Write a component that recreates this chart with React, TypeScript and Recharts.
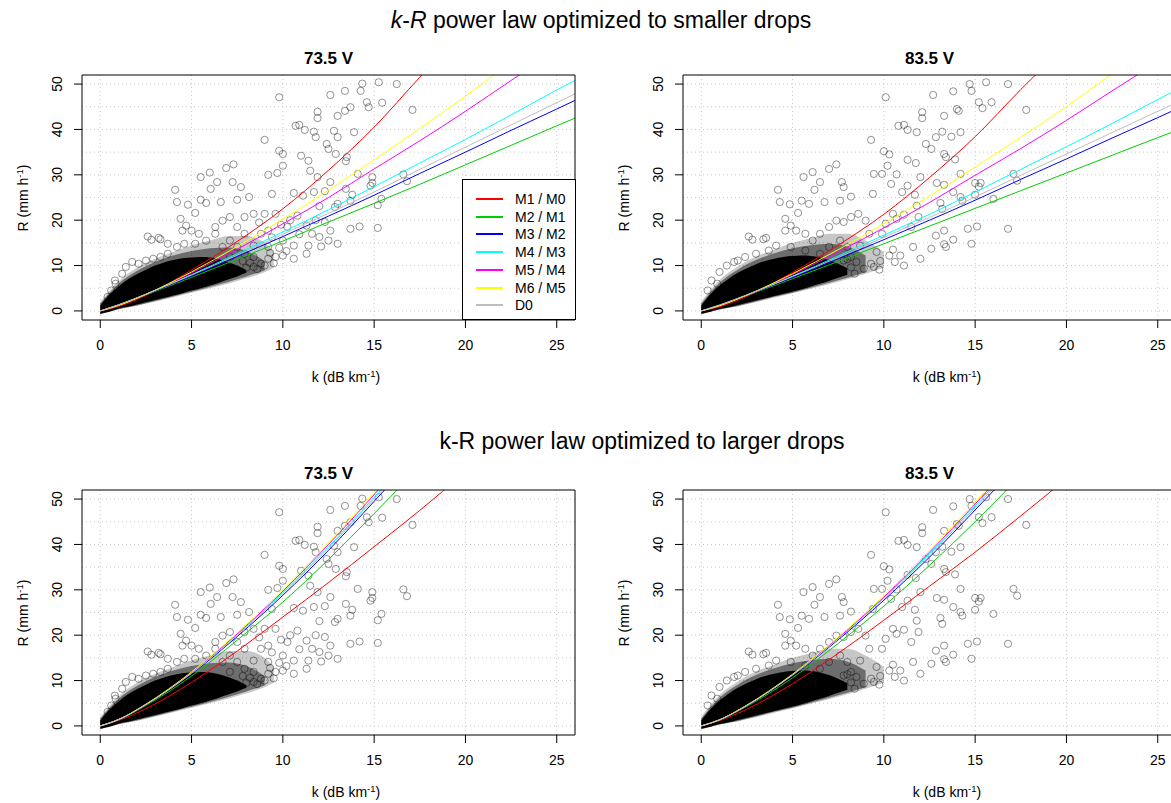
import React from 'react';
import {
  ComposedChart,
  Line,
  Area,
  Scatter,
  XAxis,
  YAxis,
  ReferenceLine,
  ReferenceArea,
} from 'recharts';

const FONT = '"Liberation Sans", Arial, Helvetica, sans-serif';

// axis ticks and grid positions
const kTicks = [0, 5, 10, 15, 20, 25];
const rTicks = [0, 10, 20, 30, 40, 50];
const kGrid = [0, 5, 10, 15, 20, 25];
const rGrid = [0, 5, 10, 15, 20, 25, 30, 35, 40, 45, 50];

// series (legend order)
const seriesNames = ['M1 / M0', 'M2 / M1', 'M3 / M2', 'M4 / M3', 'M5 / M4', 'M6 / M5', 'D0'];
const seriesKeys = ['m1m0', 'm2m1', 'm3m2', 'm4m3', 'm5m4', 'm6m5', 'd0'];
const seriesColors = ['#FF0000', '#00CD00', '#0000FF', '#00FFFF', '#FF00FF', '#FFFF00', '#BEBEBE'];

// k values where the fitted curves were read
const lineK = [0, 1, 2.5, 5, 7.5, 10, 12.5, 15, 17.5, 20, 22.5, 25, 27];

// optimized to smaller drops, 73.5 V
const small73: (number | null)[][] = [
  [0, 1.0, 3.4, 9.0, 15.3, 22.5, 31.0, 40.5, 51.5, 62, null, null, null],
  [0, 1.34, 3.55, 7.4, 11.4, 15.4, 19.6, 23.7, 27.9, 32.2, 36.5, 40.8, 44.2],
  [0, 1.33, 3.62, 7.7, 12.0, 16.4, 20.9, 25.5, 30.3, 35.0, 39.8, 44.5, 48.3],
  [0, 1.31, 3.67, 8.0, 12.6, 17.4, 22.3, 27.4, 32.6, 37.8, 43.2, 48.7, 52.9],
  [0, 1.23, 3.67, 8.4, 13.6, 19.2, 25.0, 31.3, 37.5, 44.0, 50.8, 57.5, null],
  [0, 1.18, 3.65, 8.6, 14.2, 20.2, 26.6, 33.3, 40.2, 47.3, 54.9, null, null],
  [0, 1.36, 3.7, 7.9, 12.3, 16.9, 21.5, 26.2, 31.2, 36.1, 41.0, 45.9, 49.8],
];

// optimized to smaller drops, 83.5 V
const small83: (number | null)[][] = [
  [0, 0.91, 3.2, 8.5, 14.5, 21.3, 29.4, 38.4, 48.8, 58.7, null, null, null],
  [0, 1.29, 3.41, 7.1, 10.9, 14.8, 18.7, 22.6, 26.5, 30.4, 34.3, 38.2, 41.2],
  [0, 1.27, 3.47, 7.38, 11.5, 15.7, 20.0, 24.4, 29.0, 33.5, 38.1, 42.6, 46.3],
  [0, 1.25, 3.51, 7.66, 12.1, 16.7, 21.3, 26.2, 31.2, 36.2, 41.3, 46.6, 50.6],
  [0, 1.17, 3.5, 8.0, 13.0, 18.3, 23.9, 29.9, 35.8, 42.0, 48.5, 54.9, null],
  [0, 1.12, 3.48, 8.2, 13.5, 19.2, 25.3, 31.7, 38.3, 45.0, 52.3, 59, null],
  [0, 1.3, 3.54, 7.57, 11.8, 16.2, 20.6, 25.1, 29.9, 34.6, 39.3, 44.0, 47.7],
];

// optimized to larger drops, 73.5 V
const large73: (number | null)[][] = [
  [0, 1.2, 3.8, 9.6, 16.5, 24.0, 31.6, 39.5, 47.5, 56, null, null, null],
  [0, 1.35, 4.5, 11.0, 18.9, 27.3, 36.7, 46.8, 57.2, null, null, null, null],
  [0, 1.38, 4.65, 11.5, 19.7, 28.8, 38.7, 49.5, 60.5, null, null, null, null],
  [0, 1.4, 4.7, 11.7, 20.1, 29.4, 39.5, 50.4, 61.8, null, null, null, null],
  [0, 1.4, 4.75, 11.8, 20.3, 29.7, 40.0, 51.0, 62.5, null, null, null, null],
  [0, 1.4, 4.8, 11.9, 20.5, 30.0, 40.4, 51.5, 63, null, null, null, null],
  [0, 1.4, 4.7, 11.6, 20.0, 29.2, 39.2, 50.0, 61.3, null, null, null, null],
];

// optimized to larger drops, 83.5 V
const large83: (number | null)[][] = [
  [0, 1.17, 3.7, 9.3, 16.0, 23.3, 30.8, 38.3, 46.3, 54.5, null, null, null],
  [0, 1.3, 4.32, 10.6, 18.2, 26.4, 35.4, 45.0, 55.2, null, null, null, null],
  [0, 1.33, 4.48, 11.1, 19.0, 27.7, 37.2, 47.6, 58.2, null, null, null, null],
  [0, 1.35, 4.52, 11.26, 19.3, 28.3, 38.0, 48.5, 59.5, null, null, null, null],
  [0, 1.34, 4.55, 11.3, 19.4, 28.4, 38.3, 48.9, 59.9, null, null, null, null],
  [0, 1.34, 4.6, 11.4, 19.6, 28.7, 38.7, 49.3, 60.3, null, null, null, null],
  [0, 1.35, 4.52, 11.2, 19.2, 28.1, 37.7, 48.1, 59.0, null, null, null, null],
];

// dense (solid black) part of the point cloud: k, lower R, upper R
const coreK = [0, 0.5, 1, 1.5, 2, 2.5, 3, 3.5, 4, 4.5, 5, 5.5, 6, 6.5, 7, 7.5, 8];
const coreLo73 = [-0.6, -0.2, 0.5, 0.9, 1.4, 1.9, 2.4, 2.9, 3.4, 3.9, 4.5, 5.0, 5.6, 6.2, 6.9, 7.6, 8.4];
const coreHi73 = [1.2, 3.6, 5.4, 6.9, 8.1, 9.1, 10.0, 10.7, 11.2, 11.6, 11.8, 11.9, 11.8, 11.4, 10.8, 10.0, 9.0];
const coreLo83 = [-0.6, -0.2, 0.4, 0.8, 1.3, 1.8, 2.3, 2.8, 3.3, 3.8, 4.3, 4.8, 5.4, 6.0, 6.6, 7.3, 8.0];
const coreHi83 = [1.2, 3.7, 5.6, 7.1, 8.4, 9.4, 10.3, 11.0, 11.5, 11.9, 12.1, 12.2, 12.1, 11.8, 11.2, 10.4, 9.4];

// dark grey zone of heavily overlapping points
const innerK = [0, 1, 2, 3, 4, 5, 6, 7, 8, 9];
const innerLo73 = [-0.7, 0.4, 1.2, 2.2, 3.2, 4.2, 5.3, 6.4, 7.6, 8.9];
const innerHi73 = [1.6, 6.0, 8.8, 10.8, 12.2, 13.2, 13.8, 14.0, 13.2, 11.0];
const innerLo83 = [-0.7, 0.3, 1.1, 2.1, 3.1, 4.0, 5.1, 6.2, 7.3, 8.5];
const innerHi83 = [1.6, 6.2, 9.1, 11.2, 12.7, 13.8, 14.5, 14.8, 14.2, 12.2];

// lighter grey fringe
const haloK73 = [0, 1, 2, 3, 4, 5, 6, 7, 8, 9, 9.5];
const haloLo73 = [-0.8, 0.3, 1.1, 2.0, 3.0, 4.0, 5.0, 6.0, 7.2, 8.5, 9.5];
const haloHi73 = [2.0, 6.5, 9.5, 11.5, 13.0, 14.5, 15.5, 16.5, 16.5, 15.0, 13.0];
const haloK83 = [0, 1, 2, 3, 4, 5, 6, 7, 8, 9, 10];
const haloLo83 = [-0.8, 0.3, 1.0, 1.9, 2.9, 3.9, 4.9, 5.9, 7.0, 8.2, 9.5];
const haloHi83 = [2.0, 6.8, 9.8, 12.0, 13.5, 15.0, 16.0, 17.0, 17.0, 15.5, 13.0];

// scattered points [k, R]
const points73: [number, number][] = [
  [14.35, 50.1], [15.25, 50.4], [16.24, 50.0], [13.4, 48.5], [12.6, 47.6], [9.8, 47.1], [14.26, 48.5],
  [15.44, 45.9], [14.6, 46.0], [14.7, 44.9], [13.7, 44.9], [13.4, 44.1], [17.1, 44.3], [11.9, 43.9],
  [11.9, 42.5], [13.0, 43.0], [10.7, 40.8], [10.9, 41.0], [11.2, 39.9], [11.7, 39.5], [13.9, 39.4],
  [12.8, 39.7], [9.0, 37.7], [11.8, 38.3], [12.4, 36.8], [13.0, 38.3], [12.5, 35.7], [9.8, 35.3],
  [10.0, 34.6], [13.5, 33.9], [13.45, 33.0], [12.9, 34.6], [11.0, 34.2], [11.4, 33.1], [10.0, 32.0],
  [7.3, 32.3], [6.9, 31.5], [9.2, 30.0], [9.7, 30.4], [6.0, 30.5], [5.5, 29.5], [11.5, 30.9],
  [11.9, 29.5], [14.9, 29.5], [16.6, 30.1], [16.8, 28.6], [14.8, 27.6], [14.9, 28.2], [14.1, 30.2],
  [12.6, 28.4], [7.25, 28.4], [7.7, 27.3], [6.4, 28.4], [6.05, 26.9], [4.1, 26.7], [4.2, 24.0],
  [5.5, 24.5], [5.8, 23.8], [4.8, 23.4], [6.6, 24.0], [7.5, 24.5], [8.15, 25.1], [9.4, 25.8],
  [10.6, 26.0], [11.1, 25.4], [11.7, 26.2], [12.3, 26.4], [13.45, 26.9], [13.8, 25.6], [15.4, 24.7],
  [13.7, 24.3], [12.85, 22.9], [12.0, 23.1], [13.0, 23.6], [15.2, 23.3], [4.4, 20.3], [5.2, 21.6],
  [4.5, 17.7], [4.7, 18.8], [5.0, 17.7], [2.6, 16.4], [2.8, 15.7], [3.3, 15.8], [3.2, 16.1],
  [1.75, 10.8], [0.84, 6.0], [13.7, 18.1], [14.2, 18.6], [15.2, 18.3], [12.6, 17.7], [12.0, 16.3],
  [12.5, 15.5], [13.0, 14.8], [12.1, 14.2], [11.4, 14.4], [11.3, 12.6], [10.6, 11.5], [10.0, 12.2],
  [11.6, 17.0], [11.3, 18.8], [10.25, 18.5], [10.0, 15.5], [9.6, 11.9], [9.2, 11.5], [8.8, 10.4],
  [8.4, 9.7], [10.6, 14.4], [9.8, 13.9], [9.2, 14.1], [8.4, 14.4], [8.8, 17.0], [9.2, 17.7],
  [7.9, 20.7], [8.4, 21.4], [9.0, 21.4], [9.6, 21.4], [7.1, 20.7], [6.7, 19.9], [6.3, 18.5],
  [7.5, 18.5], [7.9, 17.0], [7.1, 15.5], [7.5, 14.1], [7.9, 12.6], [8.4, 11.9], [7.1, 11.9],
  [6.7, 14.1], [5.8, 15.5], [6.3, 17.0], [5.4, 17.0], [5.2, 14.8], [4.6, 14.8], [4.2, 14.1],
  [3.7, 14.8], [3.7, 12.6], [3.3, 11.9], [2.9, 11.5], [2.5, 11.1], [2.1, 10.4], [1.4, 9.7],
  [1.2, 8.2], [0.8, 6.7], [0.6, 4.5], [0.4, 3.1], [7.5, 9.0], [8.0, 9.5], [8.6, 9.2], [9.0, 10.0],
  [9.5, 10.5], [8.2, 10.6], [7.8, 11.0], [9.3, 12.8], [10.2, 13.2], [6.8, 8.2], [7.2, 8.6],
  [10.4, 20.0], [10.8, 21.0], [9.9, 19.0], [8.7, 19.5], [9.4, 16.2], [10.9, 16.9], [11.8, 20.0],
  [12.3, 19.6],
];

const points83: [number, number][] = [
  [15.6, 50.4], [16.8, 50.0], [14.7, 50.0], [14.8, 48.5], [13.8, 48.4], [12.7, 47.6], [10.1, 47.1],
  [15.2, 46.0], [15.4, 44.7], [15.9, 46.0], [17.8, 44.3], [14.0, 44.5], [14.1, 44.1], [12.1, 43.8],
  [12.1, 42.5], [13.3, 43.0], [10.8, 40.8], [11.1, 41.0], [11.3, 39.9], [11.8, 39.4], [13.2, 39.5],
  [14.2, 39.4], [9.3, 37.7], [13.7, 38.4], [12.3, 36.8], [12.85, 38.3], [12.6, 35.7], [10.0, 35.2],
  [10.3, 34.5], [13.3, 34.6], [13.4, 33.9], [13.9, 33.4], [11.3, 33.3], [11.75, 32.6], [10.2, 32.0],
  [7.4, 32.3], [7.0, 31.3], [9.45, 30.2], [9.9, 30.2], [6.1, 30.6], [5.6, 29.5], [10.7, 30.1],
  [12.0, 29.5], [17.1, 30.2], [17.3, 28.7], [15.0, 28.2], [15.2, 27.4], [15.3, 28.2], [12.9, 28.2],
  [13.3, 27.8], [11.3, 27.6], [10.4, 28.0], [7.7, 28.4], [6.5, 28.4], [6.2, 26.7], [7.8, 27.3],
  [4.2, 26.7], [4.3, 24.0], [5.5, 24.3], [5.9, 23.6], [4.85, 23.5], [6.75, 24.0], [7.6, 24.3],
  [8.2, 25.2], [9.4, 25.8], [11.0, 26.2], [11.7, 25.6], [13.8, 26.2], [14.2, 25.1], [15.0, 25.6],
  [16.0, 24.7], [14.3, 24.3], [13.1, 23.8], [11.8, 23.2], [13.2, 22.5], [4.6, 20.3], [5.3, 21.6],
  [4.6, 17.7], [4.9, 18.8], [5.2, 17.7], [2.6, 16.4], [2.8, 15.7], [3.4, 15.8], [3.55, 16.1],
  [1.8, 10.8], [0.87, 6.0], [14.6, 18.1], [15.1, 18.6], [16.8, 18.1], [14.8, 14.8], [13.8, 15.7],
  [13.3, 17.7], [12.85, 16.6], [13.4, 14.1], [13.3, 14.7], [12.6, 13.7], [12.0, 11.5], [11.6, 14.1],
  [10.9, 12.2], [11.1, 10.0], [10.6, 10.8], [10.3, 12.2], [9.75, 9.1], [9.45, 9.7], [8.4, 8.2],
  [8.7, 14.4], [9.2, 17.0], [9.0, 19.9], [8.6, 21.4], [8.2, 20.7], [7.8, 19.6], [7.4, 19.9],
  [7.0, 18.5], [6.5, 17.0], [6.1, 15.5], [5.7, 17.0], [7.6, 15.5], [8.0, 14.1], [7.0, 14.1],
  [7.8, 11.1], [8.2, 11.9], [6.5, 12.6], [5.7, 13.3], [4.9, 14.1], [4.1, 14.4], [3.7, 13.3],
  [3.0, 12.6], [2.4, 11.9], [2.0, 11.1], [1.4, 10.0], [1.0, 8.6], [0.56, 6.7], [0.35, 4.5],
  [11.5, 18.5], [11.9, 20.7], [10.5, 21.4], [10.1, 19.2], [9.9, 17.0], [14.2, 30.2], [7.6, 9.0],
  [8.2, 9.6], [8.9, 9.3], [9.3, 10.4], [9.8, 11.0], [8.5, 10.8], [8.0, 11.4], [9.6, 13.0],
  [10.5, 13.5], [7.0, 8.3], [7.3, 8.8], [10.7, 20.3], [11.1, 21.2],
];

// build the table Recharts needs from the arrays above
function buildRows(
  lines: (number | null)[][],
  coreLo: number[], coreHi: number[],
  innerLo: number[], innerHi: number[],
  haloK: number[], haloLo: number[], haloHi: number[],
) {
  const map = new Map<number, any>();
  const row = (k: number) => {
    if (!map.has(k)) map.set(k, { k });
    return map.get(k);
  };
  lineK.forEach((k, i) => {
    lines.forEach((vals, j) => {
      const v = vals[i];
      if (v != null) row(k)[seriesKeys[j]] = v;
    });
  });
  coreK.forEach((k, i) => { row(k).core = [coreLo[i], coreHi[i]]; });
  innerK.forEach((k, i) => { row(k).inner = [innerLo[i], innerHi[i]]; });
  haloK.forEach((k, i) => { row(k).halo = [haloLo[i], haloHi[i]]; });
  return Array.from(map.values()).sort((a, b) => a.k - b.k);
}

const XTick = (props: any) => {
  const { x, y, payload } = props;
  return (
    <text x={x} y={y + 20} textAnchor="middle" fontSize={14} fontFamily={FONT} fill="#000">
      {payload.value}
    </text>
  );
};

const YTick = (props: any) => {
  const { x, y, payload } = props;
  const bx = x - 9.5;
  return (
    <text x={bx} y={y} transform={`rotate(-90 ${bx} ${y})`} textAnchor="middle" fontSize={14} fontFamily={FONT} fill="#000">
      {payload.value}
    </text>
  );
};

const Ring = (props: any) => {
  const { cx, cy } = props;
  if (cx == null || cy == null) return null;
  return <circle cx={cx} cy={cy} r={3.6} fill="none" stroke="rgba(0,0,0,0.42)" strokeWidth={1} />;
};

const Txt = ({ cx, cy, size, bold, rotate, children }: any) => (
  <div
    style={{
      position: 'absolute',
      left: cx,
      top: cy,
      transform: `translate(-50%, -50%)${rotate ? ' rotate(-90deg)' : ''}`,
      fontSize: size,
      fontWeight: bold ? 'bold' : 'normal',
      lineHeight: 1,
      whiteSpace: 'nowrap',
      color: '#000',
    }}
  >
    {children}
  </div>
);

const Sup = ({ children }: any) => (
  <span style={{ fontSize: '0.68em', position: 'relative', top: '-0.55em' }}>{children}</span>
);

function Legend() {
  return (
    <div
      style={{
        position: 'absolute',
        left: 462,
        top: 179,
        width: 114,
        height: 141,
        boxSizing: 'border-box',
        border: '1px solid #000',
        background: '#fff',
      }}
    >
      {seriesNames.map((name, i) => (
        <div key={name} style={{ position: 'absolute', left: 0, top: 19 + i * 17.7, width: '100%' }}>
          <div style={{ position: 'absolute', left: 13, top: -1, width: 27, height: 2, background: seriesColors[i] }} />
          <div style={{ position: 'absolute', left: 52, top: -8, fontSize: 14, lineHeight: '16px', whiteSpace: 'nowrap' }}>
            {name}
          </div>
        </div>
      ))}
    </div>
  );
}

function Panel({ left, top, title, rows, pts, legend }: any) {
  const scatterData = pts.map(([k, R]: [number, number]) => ({ k, R }));
  return (
    <div style={{ position: 'absolute', left, top, width: 601, height: 415 }}>
      <ComposedChart width={601} height={415} data={rows} margin={{ top: 75, right: 26, bottom: 55, left: 0 }}>
        <XAxis
          type="number"
          dataKey="k"
          domain={[-1, 26]}
          allowDataOverflow
          ticks={kTicks}
          interval={0}
          tick={XTick}
          tickSize={8}
          tickMargin={2}
          axisLine={false}
          tickLine={{ stroke: '#000' }}
          height={40}
        />
        <YAxis
          type="number"
          domain={[-2, 52]}
          allowDataOverflow
          ticks={rTicks}
          interval={0}
          tick={YTick}
          tickSize={8}
          tickMargin={2}
          axisLine={false}
          tickLine={{ stroke: '#000' }}
          width={82}
        />
        {kGrid.map((v) => (
          <ReferenceLine key={'gx' + v} x={v} stroke="#C8C8C8" strokeDasharray="1 3" zIndex={-50} />
        ))}
        {rGrid.map((v) => (
          <ReferenceLine key={'gy' + v} y={v} stroke="#C8C8C8" strokeDasharray="1 3" zIndex={-50} />
        ))}
        <Area dataKey="halo" type="monotone" connectNulls stroke="none" fill="#000" fillOpacity={0.22} isAnimationActive={false} />
        <Area dataKey="inner" type="monotone" connectNulls stroke="none" fill="#000" fillOpacity={0.45} isAnimationActive={false} />
        <Area dataKey="core" type="monotone" connectNulls stroke="none" fill="#000" fillOpacity={1} isAnimationActive={false} />
        <Scatter data={scatterData} dataKey="R" shape={Ring} isAnimationActive={false} />
        {seriesKeys.map((key, i) => (
          <Line
            key={key}
            dataKey={key}
            type="monotone"
            connectNulls
            stroke={seriesColors[i]}
            strokeWidth={1}
            dot={false}
            activeDot={false}
            isAnimationActive={false}
            zIndex={700}
          />
        ))}
        <ReferenceArea x1={-1} x2={26} y1={-2} y2={52} fill="none" fillOpacity={0} stroke="#000" strokeWidth={1} zIndex={800} />
      </ComposedChart>
      <Txt cx={328.5} cy={58} size={17} bold>{title}</Txt>
      <Txt cx={346} cy={377} size={14}>
        k (dB km<Sup>-1</Sup>)
      </Txt>
      <Txt cx={23} cy={197.5} size={14} rotate>
        R (mm h<Sup>-1</Sup>)
      </Txt>
      {legend ? <Legend /> : null}
    </div>
  );
}

const rowsSmall73 = buildRows(small73, coreLo73, coreHi73, innerLo73, innerHi73, haloK73, haloLo73, haloHi73);
const rowsSmall83 = buildRows(small83, coreLo83, coreHi83, innerLo83, innerHi83, haloK83, haloLo83, haloHi83);
const rowsLarge73 = buildRows(large73, coreLo73, coreHi73, innerLo73, innerHi73, haloK73, haloLo73, haloHi73);
const rowsLarge83 = buildRows(large83, coreLo83, coreHi83, innerLo83, innerHi83, haloK83, haloLo83, haloHi83);

export default function App() {
  return (
    <div
      style={{
        position: 'absolute',
        left: 0,
        top: 0,
        width: 1171,
        height: 803,
        overflow: 'hidden',
        background: '#fff',
        fontFamily: FONT,
      }}
    >
      <Panel left={0} top={0} title="73.5 V" rows={rowsSmall73} pts={points73} legend />
      <Panel left={601} top={0} title="83.5 V" rows={rowsSmall83} pts={points83} />
      <Panel left={0} top={415} title="73.5 V" rows={rowsLarge73} pts={points73} />
      <Panel left={601} top={415} title="83.5 V" rows={rowsLarge83} pts={points83} />
      <Txt cx={601} cy={20} size={23}>
        <i>k</i>-<i>R</i> power law optimized to smaller drops
      </Txt>
      <Txt cx={642} cy={441} size={23}>
        k-R power law optimized to larger drops
      </Txt>
    </div>
  );
}
